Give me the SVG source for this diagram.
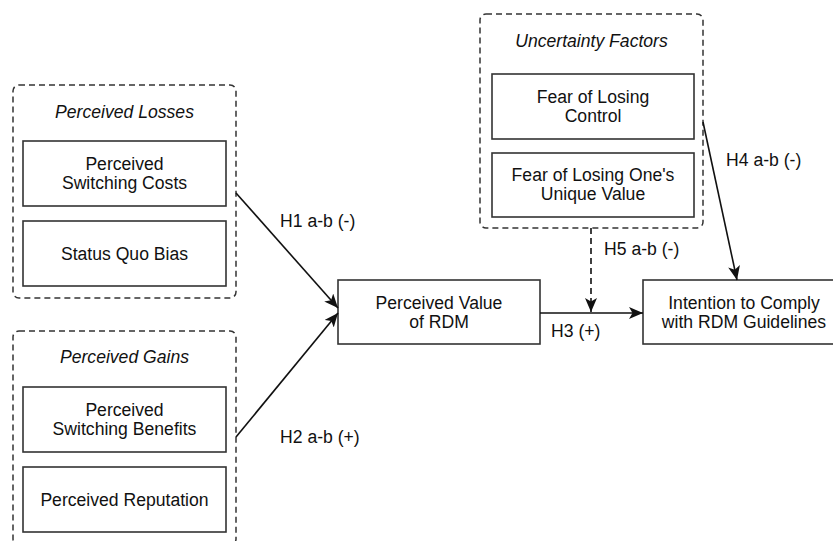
<svg xmlns="http://www.w3.org/2000/svg" width="833" height="541" viewBox="0 0 833 541">
<style>
text{font-family:"Liberation Sans",Arial,sans-serif;font-size:17.6px;fill:#111;text-anchor:middle}
.grp{fill:none;stroke:#333;stroke-width:1.5;stroke-dasharray:6,4}
.box{fill:#fff;stroke:#333;stroke-width:1.6}
.title{font-style:italic}
.lbl{text-anchor:start}
.edge{fill:none;stroke:#111;stroke-width:1.6}
.dash{stroke-dasharray:6,4}
</style>
<defs>
<marker id="arr" markerUnits="userSpaceOnUse" markerWidth="16" markerHeight="14" refX="14" refY="6" orient="auto">
<path d="M0,0 L14,6 L0,12 L3.5,6 Z" fill="#111"/>
</marker>
</defs>
<rect width="833" height="541" fill="#fff"/>

<g id="losses">
<rect class="grp" x="13" y="85" width="223" height="213" rx="6"/>
<text class="title" x="124.5" y="118">Perceived Losses</text>
</g>
<g id="switching-costs">
<rect class="box" x="23" y="141" width="203" height="65"/>
<text x="124.5" y="170">Perceived</text>
<text x="124.5" y="189">Switching Costs</text>
</g>
<g id="status-quo">
<rect class="box" x="23" y="221" width="203" height="65"/>
<text x="124.5" y="260">Status Quo Bias</text>
</g>

<g id="gains">
<rect class="grp" x="13" y="331" width="223" height="214" rx="6"/>
<text class="title" x="124.5" y="363">Perceived Gains</text>
</g>
<g id="switching-benefits">
<rect class="box" x="23" y="387" width="203" height="65"/>
<text x="124.5" y="416">Perceived</text>
<text x="124.5" y="435">Switching Benefits</text>
</g>
<g id="reputation">
<rect class="box" x="23" y="467" width="203" height="65"/>
<text x="124.5" y="506">Perceived Reputation</text>
</g>

<g id="uncertainty">
<rect class="grp" x="480" y="14" width="223" height="214" rx="6"/>
<text class="title" x="591.5" y="47">Uncertainty Factors</text>
</g>
<g id="fear-control">
<rect class="box" x="492" y="74" width="202" height="65"/>
<text x="593" y="103">Fear of Losing</text>
<text x="593" y="122">Control</text>
</g>
<g id="fear-value">
<rect class="box" x="492" y="153" width="202" height="64"/>
<text x="593" y="181">Fear of Losing One's</text>
<text x="593" y="200">Unique Value</text>
</g>

<g id="perceived-value">
<rect class="box" x="338" y="280" width="202" height="64"/>
<text x="439" y="309">Perceived Value</text>
<text x="439" y="328">of RDM</text>
</g>
<g id="intention">
<rect class="box" x="643" y="280" width="202" height="64"/>
<text x="744" y="309">Intention to Comply</text>
<text x="744" y="328">with RDM Guidelines</text>
</g>

<g id="connectors">
<path class="edge" d="M236,193 L338,308" marker-end="url(#arr)"/>
<path class="edge" d="M236,437 L338,313" marker-end="url(#arr)"/>
<path class="edge" d="M540,313 L643,313" marker-end="url(#arr)"/>
<path class="edge dash" d="M591,228 L591,312" marker-end="url(#arr)"/>
<path class="edge" d="M703,122 L737,280" marker-end="url(#arr)"/>
<text class="lbl" x="280" y="227">H1 a-b (-)</text>
<text class="lbl" x="280" y="443">H2 a-b (+)</text>
<text class="lbl" x="551" y="337">H3 (+)</text>
<text class="lbl" x="604" y="255">H5 a-b (-)</text>
<text class="lbl" x="726" y="166">H4 a-b (-)</text>
</g>
</svg>
